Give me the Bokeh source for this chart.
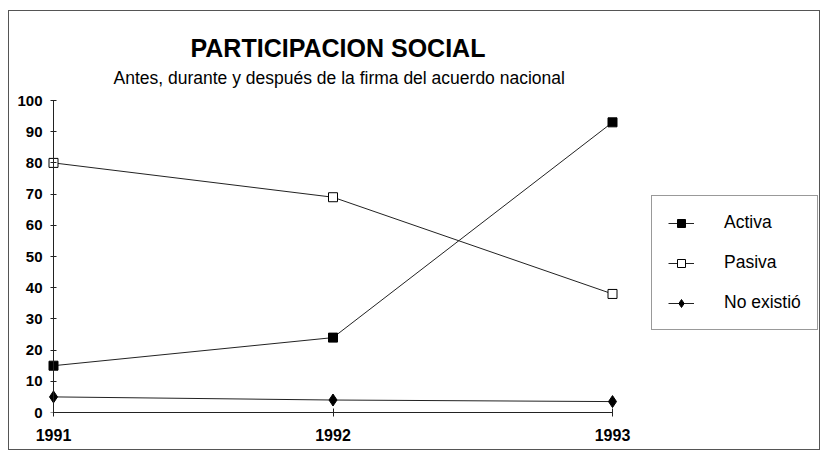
from bokeh.plotting import figure
from bokeh.models import Range1d, FixedTicker, Legend, LegendItem, Title, LinearAxis
from bokeh.embed import file_html
from bokeh.resources import INLINE

# ---- data ----
years = [1991, 1992, 1993]
activa = [15, 24, 93]
pasiva = [80, 69, 38]
no_existio = [5, 4, 3.5]
y_ticks = [0, 10, 20, 30, 40, 50, 60, 70, 80, 90, 100]
series_names = ["Activa", "Pasiva", "No existió"]
title_text = "PARTICIPACION SOCIAL"
subtitle_text = "Antes, durante y después de la firma del acuerdo nacional"

FONT = "Liberation Sans"

# ---- layout constants (pixels inside the figure) ----
W, H = 812, 440
FRAME_L = 38
FRAME_TOP = 80
FRAME_BOTTOM = 401
X0_PX, X1_PX = 44, 603      # where 1991 / 1993 fall
Y100_PX = 89                # where 100 falls
px_per_year = (X1_PX - X0_PX) / (years[-1] - years[0])
px_per_unit = (FRAME_BOTTOM - Y100_PX) / 100.0

x_start = years[0] - (X0_PX - FRAME_L) / px_per_year
x_end = years[-1] + (W - X1_PX) / px_per_year
y_end = (FRAME_BOTTOM - FRAME_TOP) / px_per_unit

p = figure(width=W, height=H, output_backend="svg", toolbar_location=None,
           x_range=Range1d(x_start, x_end), y_range=Range1d(0, y_end),
           min_border_left=FRAME_L, min_border_right=0,
           min_border_top=FRAME_TOP, min_border_bottom=H - FRAME_BOTTOM,
           title=None, outline_line_color=None,
           background_fill_color="white", border_fill_color="white",
           margin=(10, 0, 0, 8),
           styles={"border": "1px solid #555"})
p.grid.visible = False

# titles
p.add_layout(Title(text=subtitle_text, align="left", offset=66,
                   text_font=FONT, text_font_size="17.5px",
                   text_font_style="normal", text_color="black", standoff=7), "above")
p.add_layout(Title(text=title_text, align="left", offset=143,
                   text_font=FONT, text_font_size="25px",
                   text_font_style="bold", text_color="black", standoff=2), "above")

# x axis
p.xaxis.ticker = FixedTicker(ticks=years)
p.xaxis.bounds = (years[0], years[-1])
p.xaxis.major_label_text_font = FONT
p.xaxis.major_label_text_font_size = "16px"
p.xaxis.major_label_text_font_style = "bold"
p.xaxis.major_label_text_color = "black"
p.xaxis.major_tick_in = 4
p.xaxis.major_tick_out = 4
p.xaxis.major_label_standoff = 12
p.xaxis.minor_tick_line_color = None
p.xaxis.axis_line_color = "#222"
p.xaxis.major_tick_line_color = "#222"

# y axis: labels only (at the frame edge)
yl = p.yaxis[0]
yl.ticker = FixedTicker(ticks=y_ticks)
yl.major_label_text_font = FONT
yl.major_label_text_font_size = "15px"
yl.major_label_text_font_style = "bold"
yl.major_label_text_color = "black"
yl.major_tick_in = 0
yl.major_tick_out = 0
yl.major_label_standoff = 5
yl.minor_tick_line_color = None
yl.major_tick_line_color = None
yl.axis_line_color = None

# y axis line + ticks drawn at 1991
yline = LinearAxis(ticker=FixedTicker(ticks=y_ticks), bounds=(0, 100),
                   fixed_location=years[0],
                   major_label_overrides={t: "" for t in y_ticks},
                   major_label_standoff=0, major_tick_in=3, major_tick_out=3,
                   minor_tick_line_color=None, axis_line_color="#222",
                   major_tick_line_color="#222")
p.add_layout(yline, "left")

LINE = "#222"
l1 = p.line(years, activa, line_color=LINE, line_width=1)
m1 = p.scatter(years, activa, marker="square", size=9, fill_color="black", line_color="black")
l2 = p.line(years, pasiva, line_color=LINE, line_width=1)
m2 = p.scatter(years, pasiva, marker="square", size=9, fill_color="white", line_color="black")
l3 = p.line(years, no_existio, line_color=LINE, line_width=1)
m3 = p.scatter(years, no_existio, marker="diamond", size=12, fill_color="black", line_color="black")

LEG_LEFT, LEG_BOTTOM = 642, 319
legend = Legend(items=[LegendItem(label=series_names[0], renderers=[l1, m1]),
                       LegendItem(label=series_names[1], renderers=[l2, m2]),
                       LegendItem(label=series_names[2], renderers=[l3, m3])],
                location=(LEG_LEFT - FRAME_L, FRAME_BOTTOM - LEG_BOTTOM),
                padding=16, spacing=19, label_height=20, glyph_width=26, glyph_height=20,
                label_standoff=30, margin=0,
                label_text_font=FONT, label_text_font_size="17.5px",
                label_text_color="black",
                border_line_color="#333", border_line_width=1,
                background_fill_color="white", background_fill_alpha=1)
p.add_layout(legend)

open("out.html", "w").write(file_html(p, INLINE))
